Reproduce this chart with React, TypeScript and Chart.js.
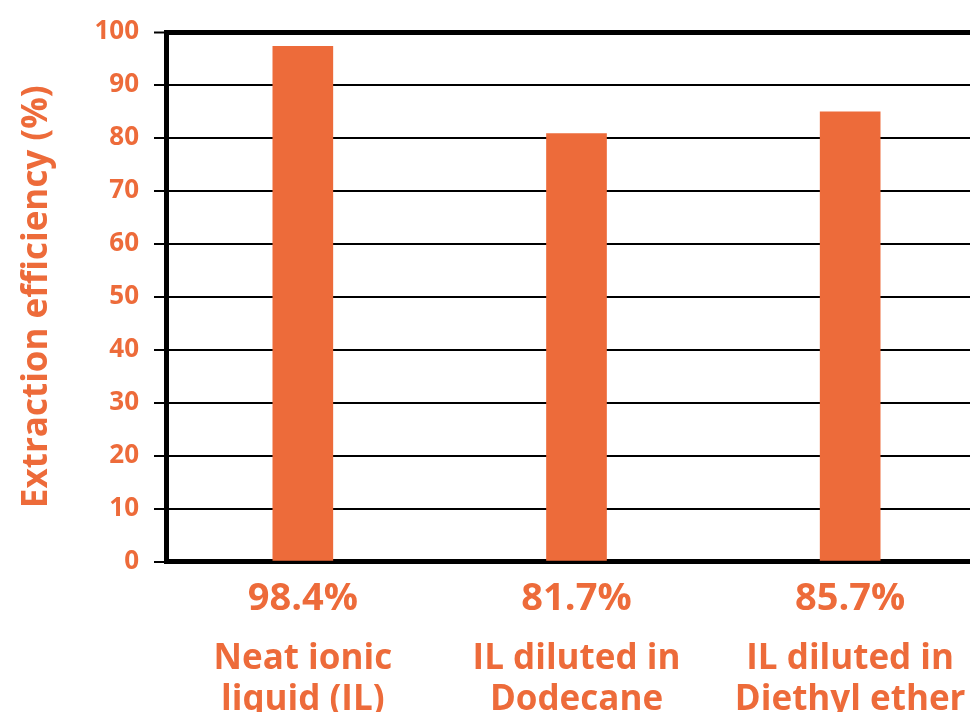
import React, { useEffect, useRef } from "react";
import { Chart, registerables } from "chart.js";

Chart.register(...registerables);

const categories: string[][] = [
  ["Neat ionic", "liquid (IL)"],
  ["IL diluted in", "Dodecane"],
  ["IL diluted in", "Diethyl ether"],
];
const percentLabels: string[] = ["98.4%", "81.7%", "85.7%"];
const barValues: number[] = [97.3, 80.8, 84.9];
const yTitle = "Extraction efficiency (%)";

const ORANGE = "#ED6B3A";
const FONT = "'Open Sans', sans-serif";

export default function App() {
  const ref = useRef<HTMLCanvasElement | null>(null);

  useEffect(() => {
    if (!ref.current) return;
    const chart = new Chart(ref.current, {
      type: "bar",
      data: {
        labels: percentLabels,
        datasets: [
          {
            data: barValues,
            backgroundColor: ORANGE,
            borderWidth: 0,
            barThickness: 60,
            xAxisID: "x",
            yAxisID: "y",
          },
        ],
      },
      options: {
        animation: false,
        responsive: false,
        devicePixelRatio: 1,
        layout: { padding: { top: 32, right: 3, left: 0, bottom: 0 } },
        plugins: { legend: { display: false }, tooltip: { enabled: false } },
        scales: {
          y: {
            min: 0,
            max: 100,
            z: 1,
            ticks: {
              stepSize: 10,
              color: ORANGE,
              padding: 15,
              font: { family: FONT, size: 26, weight: "bold" },
            },
            grid: {
              color: "#000",
              lineWidth: (c: any) => (c.tick && c.tick.value === 100 ? 5 : 2),
              tickWidth: 2,
              tickLength: 12,
              tickColor: "#000",
            },
            border: { display: true, color: "#000", width: 5 },
            title: {
              display: true,
              text: yTitle,
              color: ORANGE,
              padding: { top: 16, bottom: 0 },
              font: { family: FONT, size: 35, weight: "bold" },
            },
            afterFit: (s: any) => {
              s.width = 166;
            },
          },
          x: {
            type: "category",
            position: "bottom",
            offset: true,
            z: 1,
            grid: { display: false },
            border: { display: true, color: "#000", width: 5 },
            ticks: {
              color: ORANGE,
              padding: 7,
              maxRotation: 0,
              autoSkip: false,
              font: { family: FONT, size: 38, weight: "bold" },
            },
            afterFit: (s: any) => {
              s.height = 60;
            },
          },
          x2: {
            type: "category",
            position: "bottom",
            offset: true,
            labels: categories as any,
            grid: { display: false },
            border: { display: false },
            ticks: {
              color: ORANGE,
              padding: 9,
              maxRotation: 0,
              autoSkip: false,
              font: { family: FONT, size: 35, weight: "bold", lineHeight: 1.17 },
            },
            afterFit: (s: any) => {
              s.height = 138.5;
            },
          },
        },
      } as any,
    });
    return () => chart.destroy();
  }, []);

  return (
    <div
      style={{
        position: "fixed",
        left: 0,
        top: 0,
        width: 970,
        height: 712,
        overflow: "hidden",
        background: "#fff",
      }}
    >
      <canvas ref={ref} width={990} height={760} style={{ display: "block" }} />
    </div>
  );
}
